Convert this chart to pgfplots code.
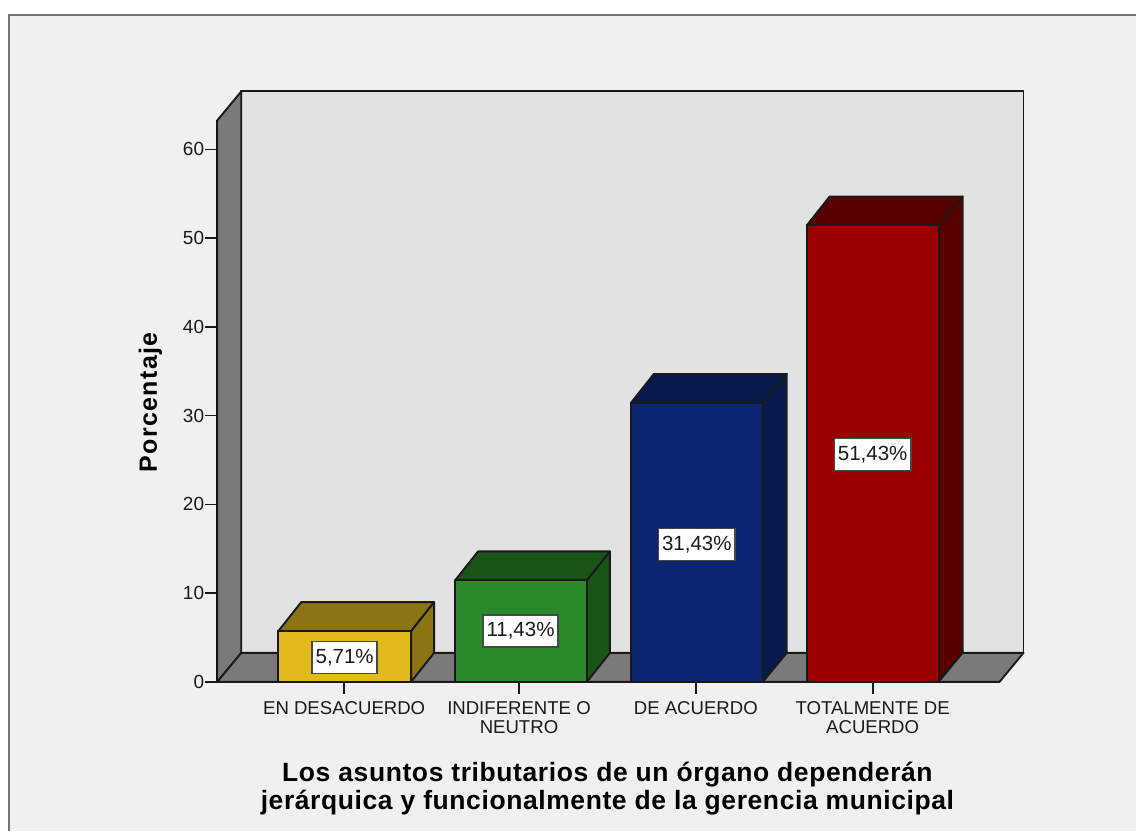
\documentclass[border=0pt]{standalone}
\usepackage{pgfplots}
\pgfplotsset{compat=1.18}
\usepackage{fontspec}
\setmainfont{Liberation Sans}
\newfontfamily\boldlab[LetterSpace=5.6]{Liberation Sans Bold}
\newfontfamily\boldlabb[LetterSpace=2.25]{Liberation Sans Bold}
\definecolor{panel}{HTML}{F0F0F0}
\definecolor{wall}{HTML}{E2E2E2}
\definecolor{side}{HTML}{7A7A7A}
\definecolor{yf}{HTML}{E3BA1C}\definecolor{ys}{HTML}{8B7412}
\definecolor{gf}{HTML}{2A892A}\definecolor{gs}{HTML}{1A5518}
\definecolor{bf}{HTML}{0A2670}\definecolor{bs}{HTML}{061A4D}
\definecolor{rf}{HTML}{990000}\definecolor{rs}{HTML}{560000}
\definecolor{txt}{HTML}{1A1A1A}
\pgfplotsset{face/.style={forget plot,mark=none,line width=1.9pt,draw=black!90,line join=round}}
\begin{document}
\begin{tikzpicture}[x=1pt,y=1pt]
\path (0,0) rectangle (1137,832);
\fill[panel] (9,0) rectangle (1137,817);
\draw[color=gray!90!black,line width=2.2pt] (9,0)--(9,817)--(1137,817);
\begin{axis}[
  at={(217.5pt,149.5pt)},anchor=south west,
  scale only axis,width=783pt,height=562pt,
  xmin=217,xmax=1000,ymin=0,ymax=63.27,clip=false,
  axis lines=left,axis line style={-,line width=1.9pt,black},
  xtick={344,519,696,873},
  xticklabels={EN DESACUERDO,{INDIFERENTE O\\NEUTRO},DE ACUERDO,{TOTALMENTE DE\\ACUERDO}},
  ytick={0,10,20,30,40,50,60},
  tick align=outside,major tick length=12pt,
  tick style={line width=1.7pt,color=txt},
  /pgf/number format/assume math mode=true,
  yticklabel style={font=\fontsize{19}{21}\selectfont,text=txt,inner sep=1pt},
  xticklabel style={font=\fontsize{18.6}{19}\selectfont,text=txt,align=center,inner sep=0pt,anchor=north,yshift=-8pt},
  xlabel={\boldlabb Los asuntos tributarios de un órgano dependerán\\\boldlabb jerárquica y funcionalmente de la gerencia municipal},
  xlabel style={at={(axis cs:607.5,-12.0)},anchor=center,align=center,font=\fontsize{26.5}{28}\selectfont,text=black},
  ylabel={\boldlab Porcentaje},
  ylabel style={at={(axis cs:150,31.5)},anchor=center,rotate=0,font=\fontsize{25}{26}\selectfont},
]
% walls
\addplot[face,fill=wall] coordinates {(241,3.265)(1024,3.265)(1024,66.53)(241,66.53)} -- cycle;
\addplot[face,fill=side] coordinates {(217,0)(241,3.265)(241,66.53)(217,63.27)} -- cycle;
\addplot[face,fill=side] coordinates {(217,0)(1000,0)(1024,3.265)(241,3.265)} -- cycle;
% EN DESACUERDO
\addplot[face,fill=ys] coordinates {(278,5.71)(301,8.975)(434,8.975)(411,5.71)} -- cycle;
\addplot[face,fill=ys] coordinates {(411,0)(434,3.265)(434,8.975)(411,5.71)} -- cycle;
\addplot[face,fill=yf] coordinates {(278,0)(411,0)(411,5.71)(278,5.71)} -- cycle;
% INDIFERENTE
\addplot[face,fill=gs] coordinates {(455,11.43)(478,14.695)(610,14.695)(587,11.43)} -- cycle;
\addplot[face,fill=gs] coordinates {(587,0)(610,3.265)(610,14.695)(587,11.43)} -- cycle;
\addplot[face,fill=gf] coordinates {(455,0)(587,0)(587,11.43)(455,11.43)} -- cycle;
% DE ACUERDO
\addplot[face,fill=bs] coordinates {(631,31.43)(654,34.695)(787,34.695)(763,31.43)} -- cycle;
\addplot[face,fill=bs] coordinates {(763,0)(787,3.265)(787,34.695)(763,31.43)} -- cycle;
\addplot[face,fill=bf] coordinates {(631,0)(763,0)(763,31.43)(631,31.43)} -- cycle;
% TOTALMENTE
\addplot[face,fill=rs] coordinates {(807,51.43)(830,54.695)(963,54.695)(939,51.43)} -- cycle;
\addplot[face,fill=rs] coordinates {(939,0)(963,3.265)(963,54.695)(939,51.43)} -- cycle;
\addplot[face,fill=rf] coordinates {(807,0)(939,0)(939,51.43)(807,51.43)} -- cycle;
% value labels
\addplot[forget plot,draw=none,mark=none,point meta=explicit symbolic,
  nodes near coords={\pgfplotspointmeta\%},
  nodes near coords style={anchor=center,fill=white,draw=txt!80!white,line width=1.5pt,
    inner xsep=3.5pt,inner ysep=0pt,minimum height=32pt,text=txt,font=\fontsize{20.5}{21}\selectfont}]
  table[meta=lab] {
  x y lab
  344.5 2.75 5,71
  520.5 5.715 11,43
  697 15.5 31,43
  873 25.6 51,43
};
\end{axis}
\end{tikzpicture}
\end{document}
